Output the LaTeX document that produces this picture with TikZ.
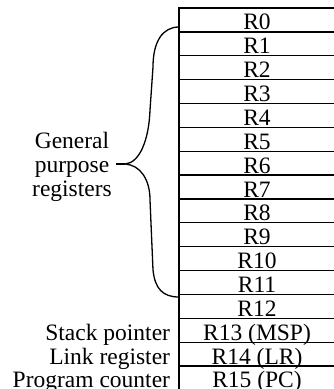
\documentclass[tikz,border=0pt]{standalone}
\usepackage{fontspec}
\setmainfont{Liberation Serif}
\usetikzlibrary{positioning}
\begin{document}
\begin{tikzpicture}[x=1pt,y=1pt,node distance=23.87pt,line width=1.3pt,
			reg/.style={draw,rectangle,minimum width=156pt,minimum height=23.87pt,
				inner sep=0pt,outer sep=0pt,text height=20pt,text depth=0pt,
				font=\fontsize{23.5}{24}\selectfont},
			lbl/.style={inner sep=0pt,outer sep=0pt,text height=20pt,text depth=0pt,
				font=\fontsize{23.5}{24}\selectfont},
			group label/.style={inner sep=0pt,align=center,
				font=\fontsize{23.5}{24}\selectfont}]
			
			\useasboundingbox (0,0) rectangle (334,389);
			\clip (0,0) rectangle (334,389);
			
			\node[reg] (R0) at (257,369.07) {R0};
			\node[reg] (R1) [below of=R0] {R1};
			\node[reg] (R2) [below of=R1] {R2};
			\node[reg] (R3) [below of=R2] {R3};
			\node[reg] (R4) [below of=R3] {R4};
			\node[reg] (R5) [below of=R4] {R5};
			\node[reg] (R6) [below of=R5] {R6};
			\node[reg] (R7) [below of=R6] {R7};
			\node[reg] (R8) [below of=R7] {R8};
			\node[reg] (R9) [below of=R8] {R9};
			\node[reg] (R10) [below of=R9] {R10};
			\node[reg] (R11) [below of=R10] {R11};
			\node[reg] (R12) [below of=R11] {R12};
			\node[reg] (R13) [below of=R12] {R13 (MSP)};
			\node[reg] (R14) [below of=R13] {R14 (LR)};
			\node[reg] (R15) [below of=R14] {R15 (PC)};
			
			\node[lbl] (SP) [left=9pt of R13] {Stack pointer};
			\node[lbl] (LR) [left=9pt of R14] {Link register};
			\node[lbl] (PC) [left=9pt of R15] {Program counter};
			\node[group label] (GPR) at (72,222) {General\\purpose\\registers};
			
			% brace over R0 to R12
			\coordinate (top) at (179,362);
			\coordinate (tip) at (125,225);
			\coordinate (bottom) at (179,92);
			\draw (top) .. controls (163,362) and (153,348) .. (153,322)
				-- (150,279) .. controls (149,250) and (140,226) .. (tip)
				.. controls (140,224) and (150,210) .. (150,189)
				-- (153,119) .. controls (155,100) and (163,92) .. (bottom);
			\draw (tip) -- (116,225);
		\end{tikzpicture}
\end{document}
